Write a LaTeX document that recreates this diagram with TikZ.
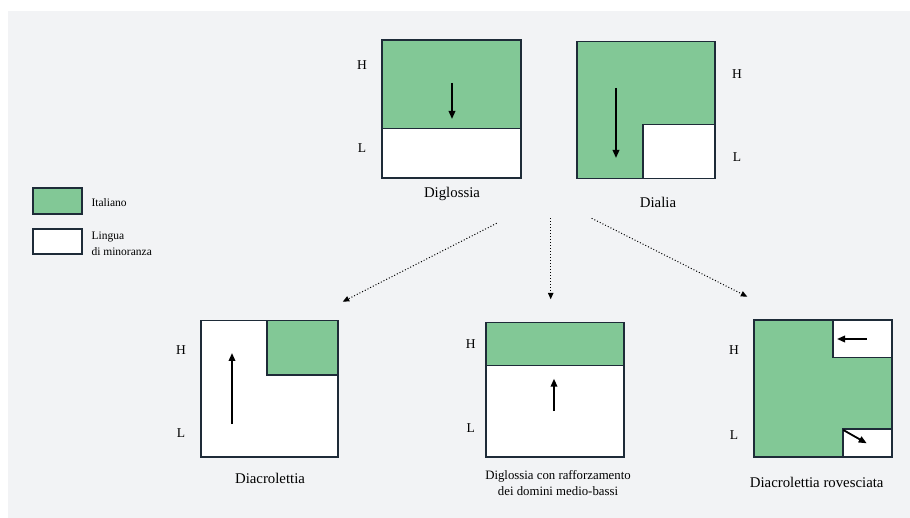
\documentclass[tikz,border=0pt]{standalone}
\usepackage{fontspec}
\setmainfont{Liberation Serif}
\usetikzlibrary{arrows.meta}
\definecolor{bg}{HTML}{F2F3F5}
\definecolor{itgreen}{HTML}{82C896}
\definecolor{edge}{HTML}{1E2B38}
\tikzset{
  boxline/.style={draw=edge,line width=1.6pt},
  greenfill/.style={fill=itgreen},
  whitefill/.style={fill=white},
  shift arrow/.style={draw=black,line width=1.8pt,-{Triangle[length=8pt,width=6.5pt]}},
  derive/.style={draw=black,line width=1pt,dotted,-{Triangle[length=6.5pt,width=5.5pt]}},
  level/.style={font=\fontsize{13.5}{16}\selectfont},
  caption/.style={font=\fontsize{14.8}{18}\selectfont},
  smallcap/.style={font=\fontsize{12.8}{16}\selectfont,align=center},
  legendtxt/.style={font=\fontsize{11.5}{15.7}\selectfont,align=left,anchor=west},
}
\begin{document}
\begin{tikzpicture}[x=1pt,y=-1pt]
\useasboundingbox (0,0) rectangle (910,518);
\fill[white] (0,0) rectangle (910,518);
\fill[bg] (8,11) rectangle (910,518);

% ---------- Diglossia ----------
\fill[whitefill] (382,40) rectangle (521,178);
\fill[greenfill] (382,40) rectangle (521,128.7);
\draw[boxline] (382,128.7) -- (521,128.7);
\node[boxline,minimum width=139pt,minimum height=138pt,inner sep=0pt] (digl) at (451.5,109) {};
\coordinate (diglA) at (452,83);
\coordinate (diglB) at (452,119);
\draw[shift arrow] (diglA) -- (diglB);
\node[level] (diglH) at (362,65) {H};
\node[level] (diglL) at (362,148) {L};
\node[caption] (diglcap) at (452,194) {Diglossia};

% ---------- Dialia ----------
\fill[greenfill] (577,41.7) rectangle (715,178.7);
\draw[boxline,whitefill] (643,124.7) rectangle (715,178.7);
\node[boxline,minimum width=138pt,minimum height=137pt,inner sep=0pt] (dial) at (646,110.2) {};
\coordinate (dialA) at (616,88);
\coordinate (dialB) at (616,158);
\draw[shift arrow] (dialA) -- (dialB);
\node[level] (dialH) at (737,74) {H};
\node[level] (dialL) at (737,157) {L};
\node[caption] (dialcap) at (658,202) {Dialia};

% ---------- Legend ----------
\node[boxline,greenfill,minimum width=49pt,minimum height=26pt,inner sep=0pt] (legit) at (57.5,201) {};
\node[boxline,whitefill,minimum width=49pt,minimum height=25pt,inner sep=0pt] (legmin) at (57.5,241.5) {};
\node[legendtxt] (legittxt) at (88,203) {Italiano};
\node[legendtxt] (legmintxt) at (88,244) {Lingua\\di minoranza};

% ---------- dotted derivations ----------
\coordinate (dl0) at (496.7,223.3);
\coordinate (dl1) at (342.7,301.7);
\coordinate (dm0) at (550.7,218.3);
\coordinate (dm1) at (550.7,299.3);
\coordinate (dr0) at (591.7,218.3);
\coordinate (dr1) at (747.3,296.7);
\draw[derive] (dl0) -- (dl1);
\draw[derive] (dm0) -- (dm1);
\draw[derive] (dr0) -- (dr1);

% ---------- Diacrolettia ----------
\fill[whitefill] (201,320.7) rectangle (338,457);
\draw[boxline,greenfill] (267,320.7) rectangle (338,375);
\node[boxline,minimum width=137pt,minimum height=136.3pt,inner sep=0pt] (diacr) at (269.5,388.85) {};
\coordinate (diacrA) at (232,424);
\coordinate (diacrB) at (232,353);
\draw[shift arrow] (diacrA) -- (diacrB);
\node[level] (diacrH) at (181,350) {H};
\node[level] (diacrL) at (181,433) {L};
\node[caption] (diacrcap) at (270,478) {Diacrolettia};

% ---------- Diglossia con rafforzamento ----------
\fill[whitefill] (486,322.7) rectangle (624,457);
\fill[greenfill] (486,322.7) rectangle (624,365.7);
\draw[boxline] (486,365.7) -- (624,365.7);
\node[boxline,minimum width=138pt,minimum height=134.3pt,inner sep=0pt] (raff) at (555,389.85) {};
\coordinate (raffA) at (554,411);
\coordinate (raffB) at (554,378.7);
\draw[shift arrow] (raffA) -- (raffB);
\node[level] (raffH) at (470.7,344) {H};
\node[level] (raffL) at (470.7,428) {L};
\node[smallcap] (raffcap) at (558,483) {Diglossia con rafforzamento\\dei domini medio-bassi};

% ---------- Diacrolettia rovesciata ----------
\fill[greenfill] (753.7,320) rectangle (891.7,457);
\draw[boxline,whitefill] (833,320) rectangle (891.7,357.7);
\draw[boxline,whitefill] (843,428.7) rectangle (891.7,457);
\node[boxline,minimum width=138pt,minimum height=137pt,inner sep=0pt] (rov) at (822.7,388.5) {};
\coordinate (rovA) at (866.7,339);
\coordinate (rovB) at (837,339);
\draw[shift arrow] (rovA) -- (rovB);
\coordinate (rovC) at (843.3,430);
\coordinate (rovD) at (866.7,443.3);
\draw[shift arrow] (rovC) -- (rovD);
\node[level] (rovH) at (734,350) {H};
\node[level] (rovL) at (734,435) {L};
\node[caption] (rovcap) at (816.7,482.7) {Diacrolettia rovesciata};
\end{tikzpicture}
\end{document}
